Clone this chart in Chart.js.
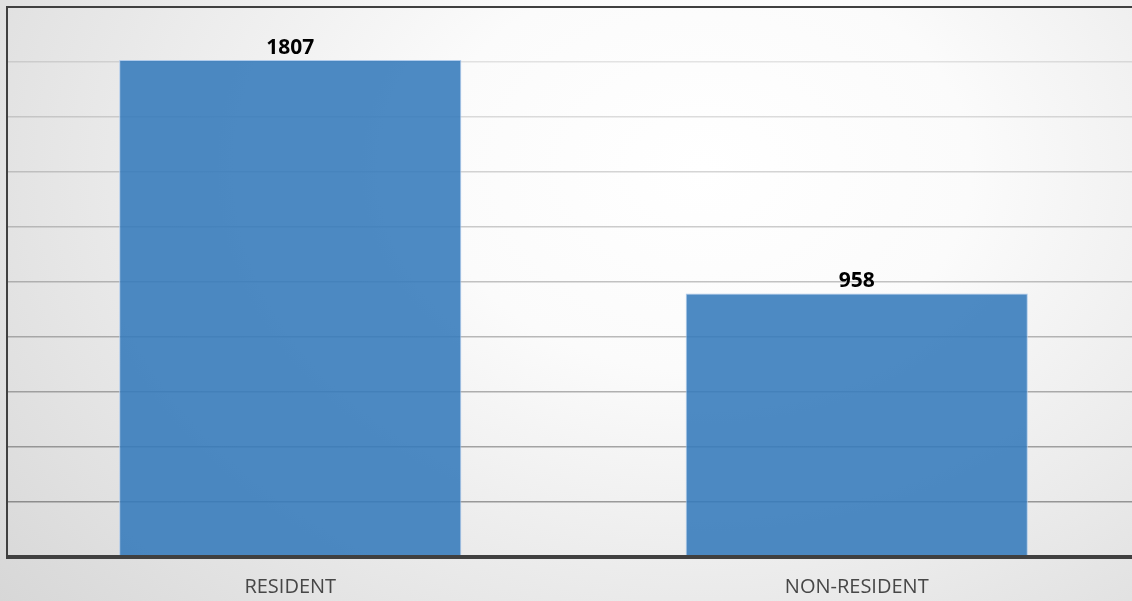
<!DOCTYPE html>
<html lang="en">
<head>
<meta charset="UTF-8">
<title>Resident / Non-resident</title>
<style>
html, body { margin: 0; padding: 0; width: 1132px; height: 601px; overflow: hidden; }
body { background: radial-gradient(ellipse 85% 120% at 62% 28%, #ffffff 0%, #fbfbfb 28%, #ebebeb 58%, #d4d4d4 100%); }
#wrap { width: 1140px; height: 620px; }
</style>
</head>
<body>
<div id="wrap"><canvas id="barChart" width="1140" height="620"></canvas></div>

<script src="https://cdn.jsdelivr.net/npm/chart.js@4"></script>
<script>
const categories = ['RESIDENT', 'NON-RESIDENT']
const counts = [1807, 958]
const axisMax = 2000
const axisStep = 200

// frame of the plot area: thin top + left, heavy bottom axis line
const frame = {
    id: 'frame',
    afterDraw(chart) {
        let ctx = chart.ctx
        let a = chart.chartArea
        ctx.save()
        ctx.strokeStyle = '#404040'
        ctx.lineWidth = 2
        ctx.beginPath()
        ctx.moveTo(a.right, a.top)
        ctx.lineTo(a.left, a.top)
        ctx.lineTo(a.left, a.bottom)
        ctx.stroke()
        ctx.lineWidth = 4
        ctx.beginPath()
        ctx.moveTo(a.left - 1, a.bottom)
        ctx.lineTo(a.right, a.bottom)
        ctx.stroke()
        ctx.restore()
    }
}

// values above the bars
const valueLabels = {
    id: 'valueLabels',
    afterDraw(chart) {
        let ctx = chart.ctx
        let meta = chart.getDatasetMeta(0)
        ctx.save()
        ctx.font = 'bold 21px "Open Sans"'
        ctx.fillStyle = '#000000'
        ctx.textAlign = 'center'
        ctx.textBaseline = 'alphabetic'
        meta.data.forEach(function(bar, i) {
            ctx.fillText(String(counts[i]), bar.x, bar.y - 6.5)
        })
        ctx.restore()
    }
}

new Chart(document.getElementById('barChart'), {
    type: 'bar',
    data: {
        labels: categories,
        datasets: [{
            data: counts,
            backgroundColor: 'rgba(52,122,187,0.88)',
            borderColor: 'rgba(170,200,235,0.9)',
            borderWidth: 1,
            borderSkipped: 'bottom',
            barPercentage: 0.604,
            categoryPercentage: 1
        }]
    },
    options: {
        responsive: false,
        animation: false,
        layout: { padding: { left: 7, top: 7, right: 0, bottom: 3 } },
        plugins: {
            legend: { display: false },
            tooltip: { enabled: false }
        },
        scales: {
            x: {
                grid: { display: false, drawTicks: false },
                border: { display: false },
                ticks: {
                    color: '#474747',
                    font: { family: '"Open Sans"', size: 20 },
                    padding: 18
                }
            },
            y: {
                min: 0,
                max: axisMax,
                ticks: { display: false, stepSize: axisStep },
                border: { display: false },
                grid: {
                    drawTicks: false,
                    color: function(c) {
                        let v = c.tick.value
                        if (v === 0 || v === axisMax) return 'rgba(0,0,0,0)'
                        let a = 0.1 + (1800 - v) / 1600 * 0.26
                        return 'rgba(0,0,0,' + a.toFixed(3) + ')'
                    },
                    lineWidth: 1.5
                }
            }
        }
    },
    plugins: [frame, valueLabels]
})
</script>
</body>
</html>
